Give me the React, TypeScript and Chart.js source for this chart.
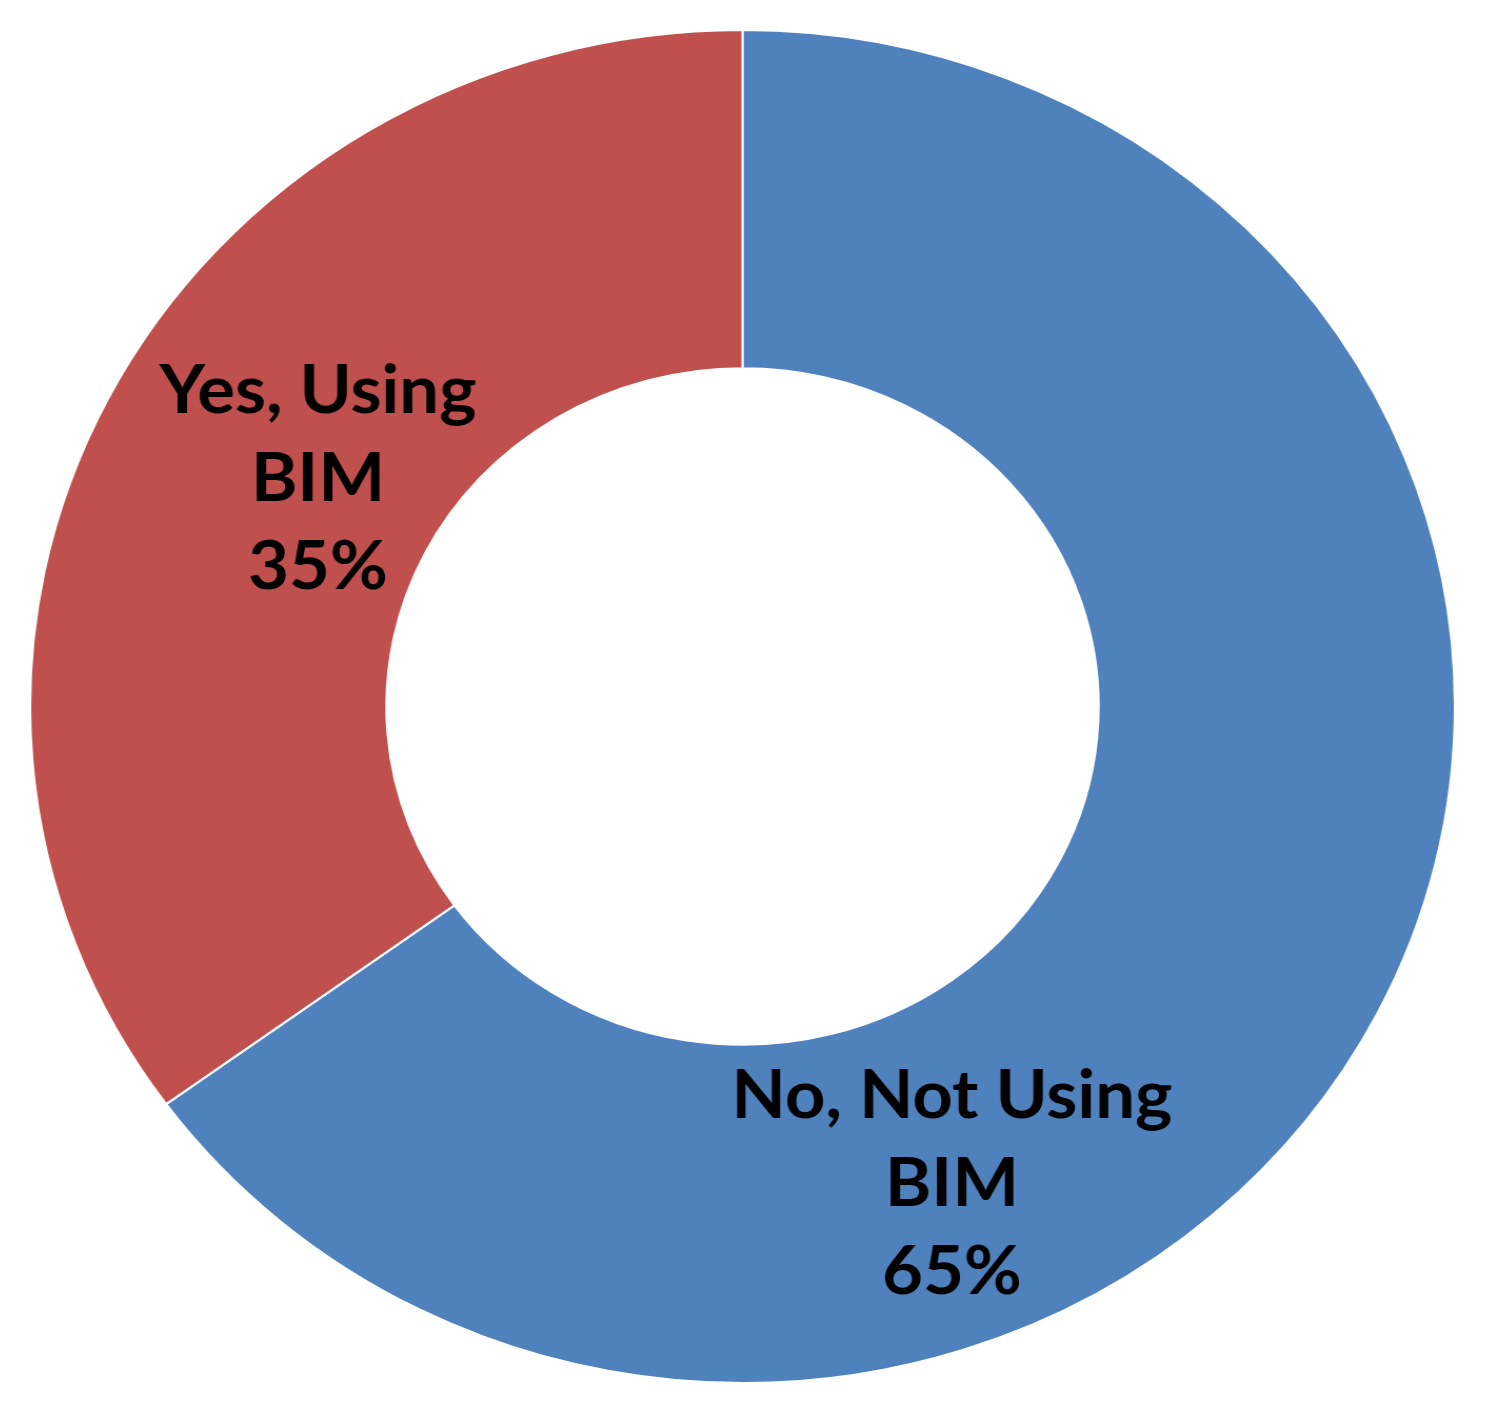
import React, { useEffect, useRef } from "react";
import { Chart, registerables } from "chart.js";

Chart.register(...registerables);

const categories = ["No, Not Using BIM", "Yes, Using BIM"];
const labelLines = [
  ["No, Not Using", "BIM", "65%"],
  ["Yes, Using", "BIM", "35%"],
];
const values = [65, 35];
const colors = ["#4F81BD", "#C0504D"];
// label anchor offsets as fractions of outer radius (x, y)
const labelOffsets = [
  [0.294, 0.707],
  [-0.596, -0.336],
];

const labelPlugin = {
  id: "sliceLabels",
  afterDatasetsDraw(chart: any) {
    const meta = chart.getDatasetMeta(0);
    const ctx = chart.ctx;
    ctx.save();
    ctx.font = "bold 67px Lato";
    ctx.fillStyle = "#000";
    ctx.textAlign = "center";
    ctx.textBaseline = "middle";
    meta.data.forEach((arc: any, i: number) => {
      const { x, y, outerRadius } = arc.getProps(["x", "y", "outerRadius"], true);
      const cx = x + labelOffsets[i][0] * outerRadius;
      const cy = y + labelOffsets[i][1] * outerRadius;
      const lines = labelLines[i];
      const lh = 88;
      lines.forEach((t, k) => {
        ctx.fillText(t, cx, cy + (k - (lines.length - 1) / 2) * lh);
      });
    });
    ctx.restore();
  },
};

export default function App() {
  const ref = useRef<HTMLCanvasElement | null>(null);
  useEffect(() => {
    if (!ref.current) return;
    const chart = new Chart(ref.current, {
      type: "doughnut",
      data: {
        labels: categories,
        datasets: [
          {
            data: values,
            backgroundColor: colors,
            borderColor: "#ffffff",
            borderWidth: 2,
          },
        ],
      },
      options: {
        animation: false,
        responsive: true,
        maintainAspectRatio: false,
        cutout: "50%",
        layout: { padding: 0 },
        plugins: {
          legend: { display: false },
          tooltip: { enabled: false },
        },
      },
      plugins: [labelPlugin],
    });
    return () => chart.destroy();
  }, []);

  return (
    <div
      style={{
        position: "absolute",
        left: 0,
        top: 0,
        width: 1502,
        height: 1426,
        background: "#fff",
        overflow: "hidden",
      }}
    >
      <div
        style={{
          position: "absolute",
          left: 65,
          top: 29,
          width: 1355,
          height: 1355,
          transform: "scaleX(1.053)",
          transformOrigin: "center center",
        }}
      >
        <canvas ref={ref} />
      </div>
    </div>
  );
}
